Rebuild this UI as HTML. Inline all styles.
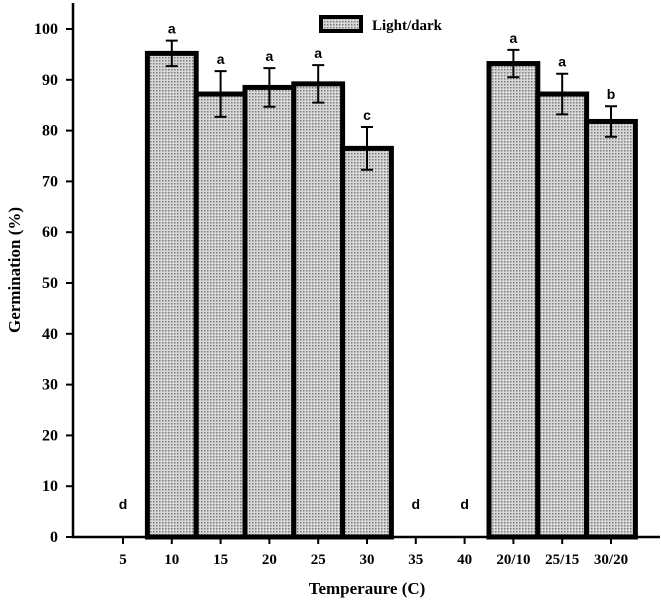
<!DOCTYPE html>
<html><head><meta charset="utf-8"><style>
body{margin:0;background:#fff}
svg{display:block}
text{font-family:"Liberation Serif",serif;font-weight:bold}
.l{font-family:"Liberation Sans",sans-serif;font-weight:bold;font-size:14px}
</style></head><body>
<svg id="c" width="661" height="607">
<defs><pattern id="dots" width="3" height="3" patternUnits="userSpaceOnUse"><rect width="3" height="3" fill="#d8d8d8"/><rect width="1.5" height="1.5" fill="#7a7a7a"/></pattern></defs>
<g id="g"></g>
</svg>
<script>
const categories=["5","10","15","20","25","30","35","40","20/10","25/15","30/20"];
const values=[0,95.2,87.2,88.5,89.2,76.5,0,0,93.2,87.2,81.8];
const errors=[0,2.5,4.5,3.8,3.7,4.2,0,0,2.7,4,3];
const letters=["d","a","a","a","a","c","d","d","a","a","b"];
const yTicks=[0,10,20,30,40,50,60,70,80,90,100];
const NS="http://www.w3.org/2000/svg";
const g=document.getElementById("g");
const x=i=>123+i*48.8;
const y=v=>537-v*5.08;
const bw=48.8;
function el(t,a,txt){const e=document.createElementNS(NS,t);for(const k in a)e.setAttribute(k,a[k]);if(txt!=null)e.textContent=txt;g.appendChild(e);return e;}
values.forEach((v,i)=>{if(v<=0)return;
 const b=el("rect",{x:x(i)-bw/2,y:y(v),width:bw,height:y(0)-y(v),fill:"url(#dots)",stroke:"#000","stroke-width":5});
 
 
});
values.forEach((v,i)=>{
 if(v>0){const e=errors[i];
  const p=el("path",{d:`M${x(i)} ${y(v+e)}V${y(v-e)}M${x(i)-6} ${y(v+e)}H${x(i)+6}M${x(i)-6} ${y(v-e)}H${x(i)+6}`,stroke:"#000","stroke-width":2,fill:"none"});
  
  
 }
 const ly=v>0?y(v+errors[i])-7:y(5.5);
 const t=el("text",{x:x(i),y:ly,"text-anchor":"middle",class:"l"},letters[i]);
 
 
});
el("path",{d:"M73 3V537H660",stroke:"#000","stroke-width":2.5,fill:"none"});
yTicks.forEach(v=>{
 el("line",{x1:66,x2:73,y1:y(v),y2:y(v),stroke:"#000","stroke-width":2});
 const t=el("text",{x:58,y:y(v)+5,"text-anchor":"end","font-size":16},v);
 
 
});
categories.forEach((c,i)=>{
 el("line",{x1:x(i),x2:x(i),y1:537,y2:544,stroke:"#000","stroke-width":2});
 const t=el("text",{x:x(i),y:564,"text-anchor":"middle","font-size":15},c);
 
 
});
const yt=el("text",{x:0,y:0,transform:"translate(20,270) rotate(-90)","text-anchor":"middle","font-size":17},"Germination (%)");


const xt=el("text",{x:367,y:594,"text-anchor":"middle","font-size":17},"Temperaure (C)");


const lb=el("rect",{x:321,y:17,width:40,height:14,fill:"url(#dots)",stroke:"#000","stroke-width":4});


const lt=el("text",{x:372,y:30,"font-size":15},"Light/dark");


</script>
</body></html>
